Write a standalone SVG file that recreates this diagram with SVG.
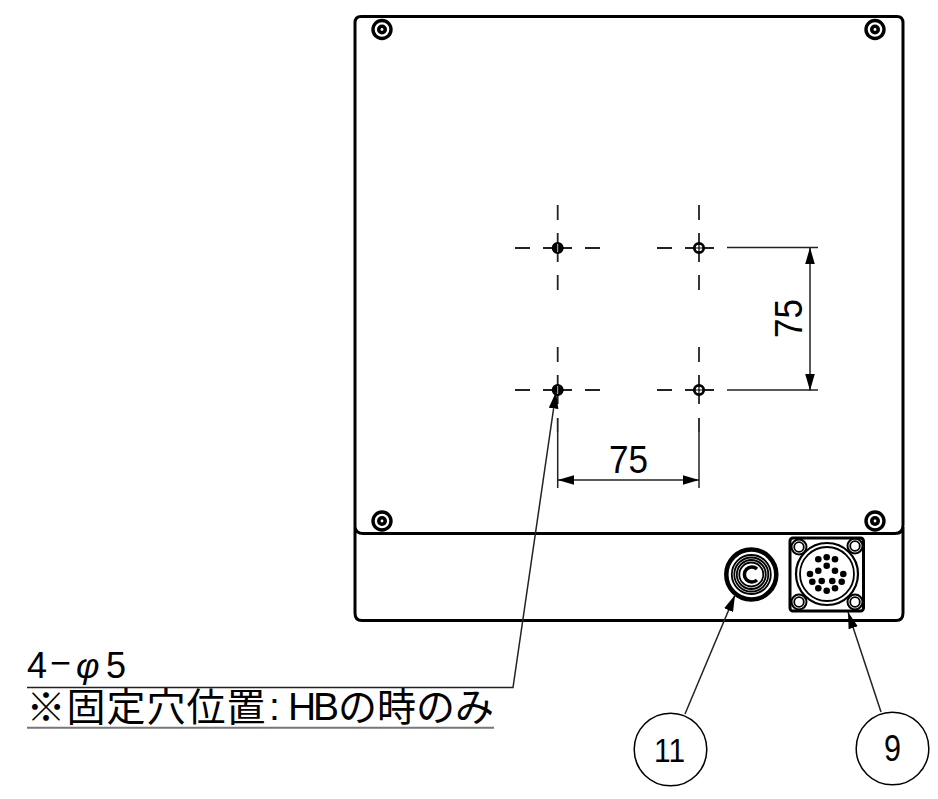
<svg xmlns="http://www.w3.org/2000/svg" width="938" height="799" viewBox="0 0 938 799">
<style>
.o{fill:none;stroke:#000;stroke-width:3}
.t{fill:none;stroke:#000;stroke-width:1.8}
.c{stroke:#222;stroke-width:1.8;fill:none}
.m{fill:none;stroke:#222;stroke-width:1.500}
.txt{font-family:"Liberation Sans","Noto Sans CJK JP",sans-serif;fill:#000}
.cjk{font-family:"Noto Sans CJK JP","Liberation Sans",sans-serif;fill:#000}
</style>
<defs>
<marker id="a" markerUnits="userSpaceOnUse" markerWidth="18" markerHeight="10" refX="16.500" refY="5" orient="auto"><path d="M0 .2L16.500 5L0 9.800Z" fill="#000"/></marker>
<g id="s"><circle r="9" fill="#fff" stroke="#000" stroke-width="3.400"/><circle r="5" fill="#000"/><circle r="1.400" fill="#fff"/></g>
<g id="k"><circle r="7.500" fill="none" stroke="#000" stroke-width="2"/><circle r="4.800" fill="none" stroke="#000" stroke-width="1.800"/></g>
</defs>
<g id="body">
<path class="o" d="M355 528V23Q355 16.500 361 16.500H897Q903 16.500 903 23V525Q903 533.500 895 533.500H363Q356 533.500 355 527V613Q355 620.500 362 620.500H896Q903 620.500 903 613V527"/>
</g>
<g id="screws"><use href="#s" x="382" y="29.500"/><use href="#s" x="875" y="29.500"/><use href="#s" x="382" y="521"/><use href="#s" x="875" y="521"/></g>
<g id="centerlines">
<path class="c" d="M515 248H530M543 248H572M585 248H600M657 248H672M685 248H714M515 390H530M543 390H572M585 390H600M657 390H672M685 390H714"/>
<path class="c" d="M557.700 205V220M557.700 233V262M557.700 275V290M699 205V220M699 233V262M699 275V290M557.700 347V362M557.700 375V404M557.700 418V432M699 347V362M699 375V404M699 418V432"/>
</g>
<g id="holes">
<circle cx="557.700" cy="248" r="5" fill="#000" stroke="#000" stroke-width="2"/><circle cx="557.700" cy="390" r="5" fill="#000" stroke="#000" stroke-width="2"/>
<circle cx="699" cy="248" r="4.700" fill="#fff" stroke="#000" stroke-width="2.800"/><circle cx="699" cy="390" r="4.700" fill="#fff" stroke="#000" stroke-width="2.800"/>
<path d="M699 243V253M694 248H704M699 385V395M694 390H704" stroke="#000" stroke-width="1.200"/>
<path d="M557.700 244V252M557.700 386V394" stroke="#bbb" stroke-width="1"/>
</g>
<g id="connector-11">
<circle cx="751.300" cy="574.500" r="25" fill="none" stroke="#000" stroke-width="4.500"/>
<circle cx="751.300" cy="574.500" r="19.500" class="t"/><circle cx="751.300" cy="574.500" r="17" class="t"/><circle cx="751.300" cy="574.500" r="14.500" class="t"/><circle cx="751.300" cy="574.500" r="12" class="t"/>
<path d="M757 569A7.500 7.500 0 1 0 757 580" fill="none" stroke="#000" stroke-width="3.500"/>
</g>
<g id="connector-9">
<rect x="790" y="538" width="73.500" height="73" rx="3" fill="none" stroke="#000" stroke-width="3"/>
<use href="#k" x="799" y="547"/><use href="#k" x="855" y="546"/><use href="#k" x="799" y="602"/><use href="#k" x="855" y="602"/>
<circle cx="827" cy="574" r="31" fill="#fff" stroke="#000" stroke-width="2.200"/>
<circle cx="827" cy="574" r="27" fill="none" stroke="#000" stroke-width="1.800"/>
<g fill="#000"><circle cx="826.700" cy="557.300" r="3.300"/><circle cx="818.300" cy="559.300" r="3.300"/><circle cx="835" cy="559.300" r="3.300"/><circle cx="826.700" cy="565.700" r="3.300"/><circle cx="818.300" cy="570.700" r="3.300"/><circle cx="810" cy="574" r="3.300"/><circle cx="835" cy="570.700" r="3.300"/><circle cx="843.300" cy="574" r="3.300"/><circle cx="812.300" cy="581.700" r="3.300"/><circle cx="821.700" cy="581" r="3.300"/><circle cx="832.300" cy="581" r="3.300"/><circle cx="841.700" cy="581.700" r="3.300"/><circle cx="818.300" cy="588.300" r="3.300"/><circle cx="826.700" cy="590.700" r="3.300"/><circle cx="835" cy="588.300" r="3.300"/></g>
</g>
<g id="connectors">
<path class="m" d="M727 247.500H818M727 390H818"/>
<path class="m" d="M810 319V247.500" marker-end="url(#a)"/><path class="m" d="M810 319V390.500" marker-end="url(#a)"/>
<path class="m" d="M557.700 432V488M699 432V488"/>
<path class="m" d="M628 480H557.700" marker-end="url(#a)"/><path class="m" d="M628 480H699" marker-end="url(#a)"/>
<path class="m" d="M27 687.500H513L556 392" marker-end="url(#a)"/>
<path class="m" d="M685 714L735 595" marker-end="url(#a)"/>
<path class="m" d="M881 712L848 612" marker-end="url(#a)"/>
<path d="M27 727.700H494" stroke="#777" stroke-width="2"/>
</g>
<g id="callout-11"><circle cx="670.500" cy="749.500" r="36.300" fill="none" stroke="#000" stroke-width="1.500"/><text class="txt" x="654" y="762" font-size="34" textLength="31" lengthAdjust="spacingAndGlyphs">11</text></g>
<g id="callout-9"><circle cx="892.500" cy="748.500" r="36.300" fill="none" stroke="#000" stroke-width="1.500"/><text class="txt" x="884" y="761" font-size="36" textLength="17" lengthAdjust="spacingAndGlyphs">9</text></g>
<g id="dim-labels">
<text class="txt" x="609" y="473" font-size="38" textLength="39" lengthAdjust="spacingAndGlyphs">75</text>
<text class="txt" font-size="38" textLength="39" lengthAdjust="spacingAndGlyphs" transform="translate(802 338) rotate(-90)">75</text>
</g>
<g id="note">
<text class="txt" font-size="36" y="678"><tspan x="27">4</tspan><tspan x="50" dy="-3">−</tspan><tspan x="76" dy="3" font-style="italic">φ</tspan><tspan x="106">5</tspan></text>
<text class="cjk" font-size="39" y="720.500"><tspan x="26.500 66.500 106.500 146.500 186.500 226.500">※固定穴位置</tspan><tspan class="txt" x="269" dy="-1" textLength="9">:</tspan><tspan class="txt" x="288">H</tspan><tspan class="txt" x="313">B</tspan><tspan x="338 377 416 455" dy="1">の時のみ</tspan></text>
</g>
</svg>
